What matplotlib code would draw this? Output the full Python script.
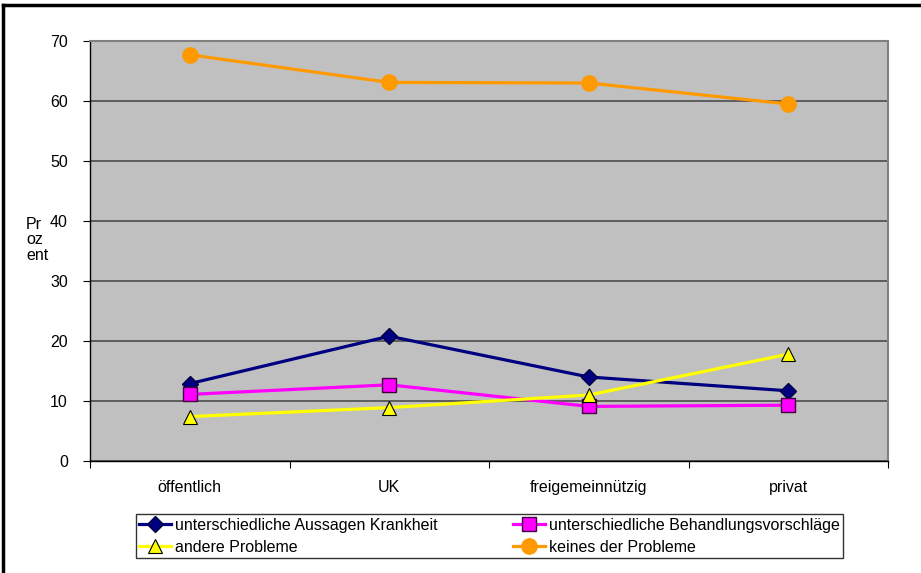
import matplotlib
matplotlib.use("Agg")
import matplotlib.pyplot as plt
from matplotlib.lines import Line2D

plt.rcParams['font.family'] = ['Liberation Sans', 'DejaVu Sans']

kategorien = ['öffentlich', 'UK', 'freigemeinnützig', 'privat']
aussagen = [12.9, 20.8, 14.0, 11.7]
behandlung = [11.1, 12.7, 9.1, 9.3]
andere = [7.4, 8.9, 11.0, 17.8]
keines = [67.7, 63.1, 63.0, 59.5]

W, H = 921, 573
fs = 11.5
fig = plt.figure(figsize=(W / 100, H / 100), dpi=100)
ax = fig.add_axes([90 / W, 1 - 461 / H, 798 / W, 420 / H])
ax.set_facecolor('#c0c0c0')

x = range(len(kategorien))
ax.plot(x, aussagen, color='#000080', lw=2.3, marker='D', ms=8,
        mfc='#000080', mec='#000040', label='unterschiedliche Aussagen Krankheit', zorder=3)
ax.plot(x, behandlung, color='#ff00ff', lw=2.3, marker='s', ms=10,
        mfc='#ff00ff', mec='#400040', label='unterschiedliche Behandlungsvorschläge', zorder=3)
ax.plot(x, andere, color='#ffff00', lw=2.3, marker='^', ms=10,
        mfc='#ffff00', mec='#000000', mew=0.8, label='andere Probleme', zorder=3)
ax.plot(x, keines, color='#ff9900', lw=2.3, marker='o', ms=11,
        mfc='#ff9900', mec='#ff9900', label='keines der Probleme', zorder=3)

ax.set_xlim(-0.5, 3.5)
ax.set_ylim(0, 70)
ax.set_yticks(range(0, 71, 10))
ax.yaxis.grid(True, color='#555555', lw=1.3)
ax.set_axisbelow(True)
ax.set_xticks([-0.5, 0.5, 1.5, 2.5, 3.5])
ax.set_xticklabels([])
ax.set_xticks(list(x), minor=True)
ax.set_xticklabels(kategorien, minor=True)
ax.tick_params(axis='x', which='minor', length=0, pad=14, labelsize=fs)
ax.tick_params(axis='x', which='major', length=5, direction='out', color='black')
ax.tick_params(axis='y', length=5, direction='out', labelsize=fs, pad=11)
for s in ['top', 'right']:
    ax.spines[s].set_color('#808080')
    ax.spines[s].set_linewidth(1.5)
for s in ['left', 'bottom']:
    ax.spines[s].set_color('black')
    ax.spines[s].set_linewidth(1.0)

fig.text(26 / W, 1 - 240 / H, 'Pr\noz\nent', fontsize=fs, va='center', ha='left',
         linespacing=1.05)

handles, labels = ax.get_legend_handles_labels()
order = [0, 2, 1, 3]
leg = fig.legend([handles[i] for i in order], [labels[i] for i in order],
                 loc='lower left', bbox_to_anchor=(136 / W, 1 - 558 / H, 707 / W, 48 / H),
                 mode='expand', ncol=2, frameon=True, fancybox=False, fontsize=fs,
                 handlelength=2.0, handletextpad=0.25, borderpad=0.2, labelspacing=0.45,
                 borderaxespad=0, columnspacing=1.0)
leg.get_frame().set_edgecolor('black')
leg.get_frame().set_linewidth(1.0)

fig.add_artist(Line2D([3 / W, 3 / W], [0, 1 - 5 / H], color='black', lw=2.5))
fig.add_artist(Line2D([3 / W, 1], [1 - 5 / H, 1 - 5 / H], color='black', lw=2.5))

fig.savefig('out.png', dpi=100)
